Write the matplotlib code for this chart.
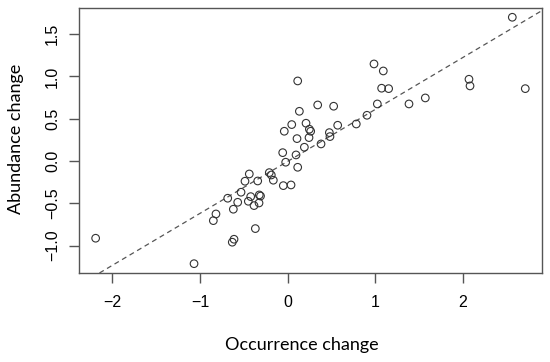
import matplotlib
matplotlib.use("Agg")
import matplotlib.pyplot as plt

# okunan noktalar (occurrence change, abundance change)
occurrence = [2.561, 0.984, 1.090, 1.071, 1.151, 1.022, 1.383, 1.569, 2.067, 2.079,
              2.709, 0.342, 0.524, 0.904, 0.782, 0.570, 0.209, 0.247, 0.262, 0.475,
              0.243, 0.482, 0.380, 0.190, 0.114, 0.133, 0.046, -0.039, 0.106, -0.057,
              0.095, -0.023, 0.114, -0.438, -0.210, -0.187, -0.487, -0.342, -0.164, -0.050,
              0.038, -0.532, -0.684, -0.570, -0.422, -0.324, -0.310, -0.449, -0.384, -0.327,
              -0.620, -0.818, -0.848, -0.369, -0.612, -0.632, -1.068, -2.190]
abundance = [1.699, 1.147, 1.064, 0.860, 0.855, 0.674, 0.674, 0.745, 0.966, 0.887,
             0.855, 0.662, 0.647, 0.540, 0.437, 0.422, 0.446, 0.375, 0.351, 0.335,
             0.276, 0.288, 0.201, 0.162, 0.946, 0.587, 0.430, 0.351, 0.264, 0.098,
             0.071, -0.015, -0.075, -0.154, -0.138, -0.166, -0.240, -0.237, -0.228, -0.292,
             -0.284, -0.370, -0.441, -0.489, -0.422, -0.402, -0.415, -0.477, -0.528, -0.497,
             -0.571, -0.627, -0.706, -0.800, -0.926, -0.961, -1.215, -0.914]

# kesikli çizgi
intercept = -0.005
slope = 0.615

xticks = [-2, -1, 0, 1, 2]
yticks = [-1.0, -0.5, 0.0, 0.5, 1.0, 1.5]

fig = plt.figure(figsize=(5.5, 3.62), dpi=100)
ax = fig.add_axes([0.1436, 0.2459, 0.8419, 0.7321])

ax.scatter(occurrence, abundance, s=30, facecolors="none", edgecolors="#333333", linewidths=0.8, zorder=3)
ax.axline((0, intercept), slope=slope, color="#555555", linestyle=(0, (4, 3)), linewidth=0.9)

ax.set_xlim(-2.38, 2.90)
ax.set_ylim(-1.325, 1.809)

ax.set_xticks(xticks)
ax.set_xticklabels(["\u22122", "\u22121", "0", "1", "2"], fontsize=11.5, family="Liberation Sans")
ax.set_yticks(yticks)
ax.set_yticklabels(["\u22121.0", "\u22120.5", "0.0", "0.5", "1.0", "1.5"], fontsize=11.5,
                   family="Liberation Sans", rotation=90, va="center")
ax.tick_params(length=7.5, width=1, color="#555555")
ax.tick_params(axis="x", pad=8)
ax.tick_params(axis="y", pad=6)

for s in ax.spines.values():
    s.set_color("#555555")
    s.set_linewidth(1)

ax.set_xlabel("Occurrence change", fontsize=13, family="Lato", va="center")
ax.set_ylabel("Abundance change", fontsize=13, family="Lato", va="center")
ax.xaxis.set_label_coords(0.4816, -0.272)
ax.yaxis.set_label_coords(-0.136, 0.5075)

fig.savefig("out.png", dpi=100)
